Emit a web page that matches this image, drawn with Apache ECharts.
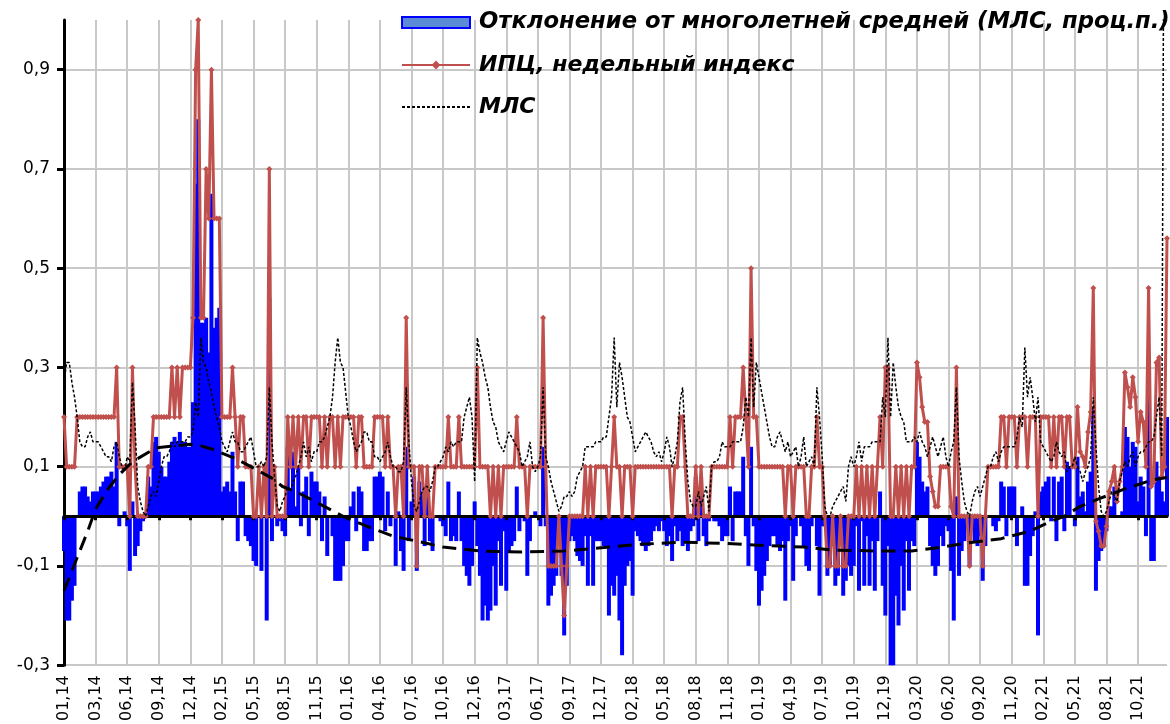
<!DOCTYPE html>
<html>
<head>
<meta charset="utf-8">
<script src="https://cdn.jsdelivr.net/npm/echarts@6/dist/echarts.min.js"></script>
<style>
html, body { margin: 0; padding: 0; background: #fff; }
#chart { width: 1170px; height: 724px; }
</style>
</head>
<body>
<div id="chart"></div>
<script>
// подписи оси X, по одной на каждые 12 недель
var tickLabels = ['01,14','03,14','06,14','09,14','12,14','02,15','05,15','08,15','11,15','01,16','04,16','07,16','10,16','12,16','03,17','06,17','09,17','12,17','02,18','05,18','08,18','11,18','01,19','04,19','07,19','10,19','12,19','03,20','06,20','09,20','11,20','02,21','05,21','08,21','10,21'];

// ИПЦ, недельный индекс (по неделям, строка = 12 недель)
var cpi = [
  0.2,0.1,0.1,0.1,0.1,0.2,0.2,0.2,0.2,0.2,0.2,0.2,
  0.2,0.2,0.2,0.2,0.2,0.2,0.2,0.2,0.3,0.1,0.1,0.1,
  0.1,0.0,0.3,0.1,0.0,0.0,0.0,0.0,0.1,0.1,0.2,0.2,
  0.2,0.2,0.2,0.2,0.2,0.3,0.2,0.3,0.2,0.3,0.3,0.3,
  0.3,0.4,0.9,1.0,0.4,0.4,0.7,0.6,0.9,0.6,0.6,0.6,
  0.2,0.2,0.2,0.2,0.3,0.2,0.1,0.2,0.2,0.1,0.1,0.1,
  0.0,0.0,0.1,0.0,0.1,0.0,0.7,0.0,0.1,0.0,0.0,0.0,
  0.0,0.2,0.1,0.2,0.1,0.2,0.1,0.2,0.2,0.1,0.2,0.2,
  0.2,0.2,0.1,0.2,0.1,0.2,0.2,0.1,0.2,0.1,0.2,0.2,
  0.2,0.2,0.2,0.1,0.2,0.2,0.1,0.1,0.1,0.1,0.2,0.2,
  0.2,0.2,0.1,0.2,0.1,0.1,0.0,0.1,0.1,0.0,0.4,0.1,
  0.1,0.1,-0.1,0.1,0.1,0.0,0.1,0.0,0.0,0.1,0.1,0.1,
  0.1,0.1,0.2,0.1,0.1,0.1,0.2,0.1,0.1,0.1,0.1,0.1,
  0.1,0.3,0.1,0.1,0.1,0.1,0.0,0.1,0.0,0.1,0.0,0.1,
  0.1,0.1,0.1,0.1,0.2,0.1,0.1,0.1,0.0,0.1,0.1,0.1,
  0.1,0.1,0.4,0.1,-0.1,-0.1,-0.1,-0.1,0.0,-0.1,-0.2,-0.1,
  0.0,0.0,0.0,0.0,0.0,0.0,0.1,0.0,0.1,0.0,0.1,0.1,
  0.1,0.1,0.1,0.0,0.1,0.2,0.1,0.1,0.0,0.1,0.1,0.1,
  0.0,0.1,0.1,0.1,0.1,0.1,0.1,0.1,0.1,0.1,0.1,0.1,
  0.1,0.1,0.1,0.0,0.1,0.1,0.2,0.2,0.1,0.0,0.0,0.0,
  0.1,0.0,0.1,0.0,0.0,0.0,0.1,0.1,0.1,0.1,0.1,0.1,
  0.1,0.2,0.1,0.2,0.2,0.2,0.3,0.2,0.1,0.5,0.2,0.2,
  0.1,0.1,0.1,0.1,0.1,0.1,0.1,0.1,0.1,0.1,0.0,0.1,
  0.1,0.0,0.1,0.1,0.1,0.1,0.0,0.0,0.1,0.1,0.2,0.1,
  0.1,0.0,-0.1,-0.1,0.0,-0.1,-0.1,0.0,-0.1,-0.1,0.0,0.0,
  0.0,0.1,0.0,0.1,0.0,0.1,0.0,0.1,0.0,0.1,0.2,0.1,
  0.3,0.3,0.0,0.0,0.1,0.0,0.1,0.0,0.1,0.0,0.1,0.1,
  0.31,0.28,0.22,0.19,0.19,0.08,0.05,0.02,0.02,0.1,0.1,0.1,
  0.1,0.02,0.0,0.3,0.0,0.0,0.0,0.0,-0.1,0.0,0.0,0.0,
  0.0,-0.1,0.0,0.1,0.1,0.1,0.1,0.1,0.2,0.2,0.1,0.2,
  0.2,0.2,0.1,0.2,0.2,0.2,0.1,0.2,0.2,0.2,0.0,0.2,
  0.2,0.2,0.2,0.1,0.2,0.1,0.2,0.2,0.1,0.2,0.2,0.1,
  0.1,0.22,0.13,0.12,0.1,0.17,0.21,0.46,-0.01,-0.03,-0.06,-0.06,
  -0.02,0.05,0.07,0.1,0.03,0.07,0.1,0.29,0.26,0.22,0.28,0.24,
  0.15,0.21,0.19,0.1,0.46,0.06,0.07,0.31,0.32,0.08,0.1,0.56
];

// МЛС, многолетняя средняя
var mls = [
  0.27,0.31,0.31,0.27,0.24,0.2,0.15,0.14,0.14,0.16,0.17,0.15,
  0.15,0.15,0.14,0.13,0.12,0.12,0.11,0.14,0.15,0.12,0.1,0.09,
  0.12,0.11,0.27,0.18,0.06,0.03,0.01,0.0,0.02,0.04,0.05,0.04,
  0.07,0.1,0.12,0.12,0.13,0.15,0.14,0.15,0.15,0.15,0.15,0.16,
  0.16,0.17,0.23,0.2,0.36,0.31,0.3,0.27,0.25,0.22,0.2,0.18,
  0.15,0.14,0.13,0.15,0.17,0.15,0.15,0.13,0.13,0.14,0.15,0.16,
  0.13,0.1,0.1,0.11,0.1,0.12,0.26,0.15,0.08,0.02,0.01,0.03,
  0.04,0.06,0.05,0.07,0.08,0.1,0.12,0.15,0.12,0.14,0.11,0.13,
  0.13,0.15,0.15,0.16,0.18,0.2,0.24,0.31,0.36,0.31,0.3,0.25,
  0.2,0.18,0.15,0.13,0.14,0.15,0.17,0.17,0.15,0.15,0.12,0.12,
  0.11,0.12,0.13,0.15,0.12,0.1,0.1,0.09,0.09,0.11,0.26,0.15,
  0.07,0.02,0.01,0.03,0.05,0.06,0.06,0.05,0.07,0.1,0.1,0.11,
  0.12,0.14,0.13,0.15,0.14,0.15,0.15,0.15,0.2,0.22,0.24,0.2,
  0.07,0.36,0.33,0.31,0.28,0.26,0.22,0.19,0.18,0.15,0.14,0.13,
  0.15,0.17,0.16,0.15,0.14,0.13,0.1,0.11,0.12,0.15,0.1,0.09,
  0.1,0.12,0.26,0.12,0.1,0.07,0.05,0.03,0.01,0.02,0.04,0.04,
  0.05,0.04,0.05,0.08,0.09,0.1,0.14,0.14,0.14,0.14,0.15,0.15,
  0.15,0.16,0.16,0.2,0.24,0.36,0.22,0.31,0.28,0.24,0.2,0.19,
  0.16,0.13,0.14,0.15,0.16,0.17,0.16,0.15,0.13,0.12,0.13,0.11,
  0.13,0.16,0.14,0.1,0.12,0.15,0.23,0.26,0.15,0.07,0.03,0.02,
  0.02,0.05,0.02,0.04,0.06,0.01,0.1,0.11,0.11,0.12,0.15,0.14,
  0.14,0.14,0.15,0.15,0.15,0.15,0.18,0.24,0.2,0.36,0.22,0.31,
  0.28,0.25,0.22,0.19,0.16,0.14,0.14,0.16,0.17,0.15,0.13,0.15,
  0.12,0.13,0.14,0.1,0.12,0.16,0.1,0.11,0.12,0.1,0.26,0.2,
  0.12,0.02,0.0,0.0,0.02,0.03,0.04,0.05,0.06,0.03,0.1,0.12,
  0.1,0.12,0.15,0.11,0.14,0.14,0.14,0.15,0.15,0.15,0.15,0.24,
  0.2,0.36,0.2,0.31,0.26,0.22,0.2,0.19,0.15,0.15,0.15,0.16,
  0.15,0.17,0.15,0.14,0.12,0.14,0.16,0.14,0.12,0.14,0.16,0.12,
  0.1,0.13,0.15,0.26,0.12,0.07,0.03,0.01,0.0,0.03,0.05,0.06,
  0.04,0.06,0.08,0.1,0.1,0.12,0.13,0.11,0.13,0.14,0.14,0.14,
  0.14,0.14,0.16,0.2,0.18,0.34,0.24,0.28,0.24,0.19,0.24,0.15,
  0.14,0.13,0.12,0.11,0.12,0.15,0.13,0.12,0.13,0.09,0.1,0.1,
  0.12,0.1,0.09,0.07,0.09,0.1,0.12,0.24,0.14,0.06,0.01,0.0,
  0.01,0.03,0.05,0.04,0.03,0.07,0.09,0.11,0.1,0.12,0.13,0.1,
  0.12,0.13,0.13,0.14,0.15,0.15,0.16,0.2,0.24,0.12,1.5,null
];

// отклонение от многолетней средней, проц.п.
var deviation = [
  -0.07,-0.21,-0.21,-0.17,-0.14,0.0,0.05,0.06,0.06,0.04,0.03,0.05,
  0.05,0.05,0.06,0.07,0.08,0.08,0.09,0.06,0.15,-0.02,0.0,0.01,
  -0.02,-0.11,0.03,-0.08,-0.06,-0.03,-0.01,0.0,0.08,0.06,0.15,0.16,
  0.13,0.1,0.08,0.08,0.11,0.15,0.16,0.15,0.17,0.15,0.15,0.14,
  0.14,0.23,0.67,0.8,0.39,0.39,0.4,0.33,0.65,0.38,0.4,0.42,
  0.05,0.06,0.07,0.05,0.13,0.05,-0.05,0.07,0.07,-0.04,-0.05,-0.06,
  -0.09,-0.1,0.0,-0.11,0.0,-0.21,0.44,-0.05,0.0,-0.02,-0.01,-0.03,
  -0.04,0.14,0.05,0.13,0.02,0.1,-0.02,0.05,0.08,-0.04,0.09,0.07,
  0.07,0.05,-0.05,0.04,-0.08,0.0,-0.04,-0.13,-0.13,-0.13,-0.1,-0.05,
  -0.05,0.02,0.05,-0.03,0.06,0.05,-0.07,-0.07,-0.05,-0.05,0.08,0.08,
  0.09,0.08,-0.03,0.05,-0.02,0.0,-0.1,0.01,-0.07,-0.11,0.14,-0.05,
  0.03,0.08,-0.11,0.07,0.05,-0.06,0.04,-0.05,-0.07,0.0,0.0,-0.01,
  -0.02,-0.04,0.07,-0.05,-0.04,-0.05,0.05,-0.05,-0.1,-0.12,-0.14,-0.1,
  0.03,-0.06,-0.12,-0.21,-0.18,-0.21,-0.19,-0.1,-0.18,-0.05,-0.14,-0.03,
  -0.15,-0.07,-0.06,-0.05,0.06,-0.03,0.0,-0.01,-0.12,-0.05,0.0,0.01,
  0.0,-0.02,0.14,-0.02,-0.18,-0.16,-0.14,-0.12,-0.02,-0.12,-0.24,-0.14,
  -0.05,-0.04,-0.05,-0.08,-0.09,-0.1,-0.04,-0.14,-0.04,-0.14,-0.05,-0.05,
  -0.05,-0.06,-0.06,-0.2,-0.14,-0.16,-0.12,-0.21,-0.28,-0.14,-0.1,-0.09,
  -0.16,-0.03,-0.04,-0.05,-0.06,-0.07,-0.06,-0.05,-0.03,-0.02,-0.03,-0.01,
  -0.03,-0.06,-0.04,-0.09,-0.02,-0.05,-0.03,-0.06,-0.05,-0.07,-0.03,-0.02,
  0.08,-0.05,0.08,-0.04,-0.06,-0.01,0.0,-0.01,-0.01,-0.02,-0.05,-0.04,
  -0.04,0.06,-0.05,0.05,0.05,0.05,0.12,-0.04,-0.1,0.14,-0.02,-0.11,
  -0.18,-0.15,-0.12,-0.09,-0.06,-0.04,-0.04,-0.06,-0.07,-0.05,-0.17,-0.05,
  -0.02,-0.13,-0.04,0.0,-0.02,-0.06,-0.1,-0.11,-0.02,0.0,-0.06,-0.16,
  -0.02,-0.02,-0.12,-0.1,-0.06,-0.14,-0.12,-0.05,-0.16,-0.13,-0.1,-0.12,
  -0.1,-0.02,-0.15,-0.01,-0.14,-0.04,-0.14,-0.05,-0.15,-0.05,0.05,-0.14,
  -0.2,-0.06,-0.3,-0.31,-0.16,-0.22,-0.1,-0.19,-0.05,-0.15,-0.05,-0.06,
  0.15,0.12,0.07,0.05,0.06,-0.06,-0.1,-0.12,-0.1,-0.04,-0.06,-0.02,
  -0.03,-0.11,-0.21,0.04,-0.12,-0.07,-0.05,-0.01,-0.1,-0.03,-0.05,-0.06,
  -0.04,-0.13,-0.06,0.0,0.0,-0.02,-0.03,-0.01,0.07,0.06,-0.04,0.06,
  0.06,0.06,-0.06,0.0,0.02,-0.14,-0.14,-0.08,-0.04,0.01,-0.24,0.05,
  0.06,0.07,0.08,-0.01,0.08,-0.05,0.07,0.08,-0.03,0.11,0.1,0.0,
  -0.02,0.12,0.04,0.05,0.01,0.07,0.09,0.22,-0.15,-0.09,-0.07,-0.06,
  -0.03,0.02,0.02,0.06,0.0,0.0,0.01,0.18,0.16,0.1,0.15,0.14,
  0.03,0.08,0.06,-0.04,0.31,-0.09,-0.09,0.11,0.08,0.05,0.03,0.2
];

// сглаженная тенденция отклонения: [номер недели, значение]
var trend = [
  [0,-0.15],[6,-0.07],[9,-0.03],[12,0.015],[17,0.057],[21,0.084],[26,0.11],[35,0.138],
  [48,0.145],[52,0.142],[57,0.134],[66,0.114],[72,0.097],[79,0.077],[83,0.06],[88,0.05],
  [96,0.028],[106,0.0],[115,-0.02],[125,-0.04],[134,-0.05],[144,-0.062],[158,-0.07],
  [174,-0.072],[190,-0.07],[205,-0.063],[217,-0.057],[235,-0.052],[252,-0.055],[267,-0.059],
  [281,-0.062],[292,-0.068],[310,-0.07],[322,-0.07],[331,-0.064],[343,-0.054],[356,-0.045],
  [367,-0.03],[375,-0.01],[380,0.0],[386,0.02],[393,0.035],[404,0.057],[414,0.074],[419,0.078]
];

var weeks = cpi.map(function (v, i) { return String(i); });

var FONT = 'DejaVu Sans';
var GRID_GRAY = '#c8c8c8';

var chart = echarts.init(document.getElementById('chart'));
chart.setOption({
  animation: false,
  backgroundColor: '#fff',
  grid: { left: 64, right: 3, top: 20, bottom: 52 },
  legend: {
    orient: 'vertical',
    left: 396,
    top: 6,
    itemGap: 20,
    itemWidth: 68,
    itemHeight: 11,
    textStyle: {
      fontFamily: FONT, fontSize: 22, fontWeight: 'bold', fontStyle: 'italic',
      color: '#000', padding: [0, 0, 0, 4]
    },
    data: [
      { name: 'Отклонение от многолетней средней (МЛС, проц.п.)', icon: 'rect',
        itemStyle: { color: '#5b8bd6', borderColor: '#0000ff', borderWidth: 2 },
        textStyle: { fontSize: 22.7 } },
      { name: 'ИПЦ, недельный индекс', itemStyle: { color: '#c0504d' } },
      { name: 'МЛС', itemStyle: { opacity: 0 } }
    ]
  },
  xAxis: [
    {
      type: 'category',
      data: weeks,
      boundaryGap: false,
      position: 'bottom',
      axisLine: { show: false, onZero: false },
      axisTick: { show: false },
      splitLine: { show: true, interval: 11, lineStyle: { color: GRID_GRAY, width: 2 } },
      axisLabel: {
        interval: 11,
        rotate: 90,
        margin: 10,
        padding: [7, 0, 0, 0],
        fontFamily: FONT,
        fontSize: 16,
        color: '#000',
        formatter: function (val, idx) { return tickLabels[Math.round(idx / 12)] || ''; }
      }
    },
    {
      type: 'category',
      data: weeks,
      boundaryGap: false,
      position: 'bottom',
      z: 3,
      axisLine: { show: true, onZero: true, lineStyle: { color: '#000', width: 3 } },
      axisTick: { show: true, interval: 11, length: 4, lineStyle: { color: '#000', width: 3 } },
      axisLabel: { show: false },
      splitLine: { show: false }
    }
  ],
  yAxis: {
    type: 'value',
    min: -0.3,
    max: 1.0,
    interval: 0.2,
    axisLine: { show: true, lineStyle: { color: '#000', width: 3 } },
    axisTick: { show: true, length: 7, lineStyle: { color: '#000', width: 3 } },
    splitLine: { show: true, showMaxLine: false, lineStyle: { color: GRID_GRAY, width: 2 } },
    axisLabel: {
      showMaxLabel: false,
      margin: 14,
      fontFamily: FONT,
      fontSize: 17,
      color: '#000',
      formatter: function (v) { return v.toFixed(1).replace('.', ','); }
    }
  },
  series: [
    {
      name: 'Отклонение от многолетней средней (МЛС, проц.п.)',
      type: 'bar',
      data: deviation,
      barWidth: 4,
      z: 2,
      itemStyle: { color: '#0000ff' }
    },
    {
      name: 'ИПЦ, недельный индекс',
      type: 'line',
      data: cpi,
      z: 4,
      showAllSymbol: true,
      symbol: 'diamond',
      symbolSize: 6,
      lineStyle: { color: '#c0504d', width: 3 },
      itemStyle: { color: '#c0504d' }
    },
    {
      name: 'МЛС',
      type: 'line',
      data: mls,
      z: 5,
      symbol: 'none',
      lineStyle: { color: '#000', width: 1.5, type: [3, 2] },
      itemStyle: { color: '#000' }
    },
    {
      name: 'тенденция',
      type: 'line',
      data: trend,
      z: 6,
      symbol: 'none',
      lineStyle: { color: '#000', width: 3, type: [14, 8] },
      itemStyle: { color: '#000' }
    }
  ]
});
</script>
</body>
</html>
